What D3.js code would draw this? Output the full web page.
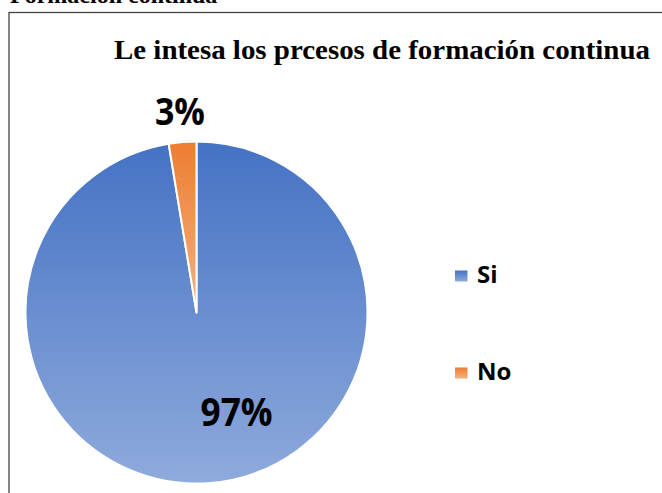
<!DOCTYPE html>
<html>
<head>
<meta charset="utf-8">
<script src="https://cdn.jsdelivr.net/npm/d3@7"></script>
<style>
  html, body { margin: 0; padding: 0; background: #fff; }
  svg { display: block; }
</style>
</head>
<body>
<svg id="chart" width="662" height="493"></svg>
<script>
// ---- data ----
const categories = ["Si", "No"];
const values = [97.4, 2.6];
const labels = ["97%", "3%"];
const pageHeading = "Formación continua";
const chartTitle = "Le intesa los prcesos de formación continua";

// ---- layout / style ----
const W = 662, H = 493;
const cx = 196.5, cy = 312.5, R = 171;
const gradStops = [["#4472C4", "#8FAADC"], ["#ED7D31", "#F4B183"]];
// label placement (polar, degrees clockwise from top, radius in px)
const labelPolar = [{a: 158, r: 107}, {a: -4.7, r: 202}];
const labelWidths = [72, 50];
const labelSizes = [40, 38];

const svg = d3.select("#chart");
const defs = svg.append("defs");
gradStops.forEach((s, i) => {
  const g = defs.append("linearGradient").attr("id", "grad" + i)
    .attr("x1", 0).attr("y1", 0).attr("x2", 0).attr("y2", 1);
  g.append("stop").attr("offset", "0%").attr("stop-color", s[0]);
  g.append("stop").attr("offset", "100%").attr("stop-color", s[1]);
});

// clipped heading above the chart box
svg.append("text")
  .attr("x", 10).attr("y", 3)
  .attr("font-family", "Liberation Serif, serif")
  .attr("font-weight", "bold").attr("font-size", 24)
  .attr("fill", "#000")
  .text(pageHeading);

// chart frame
svg.append("rect")
  .attr("x", 9).attr("y", 12.5)
  .attr("width", W + 10).attr("height", H + 10)
  .attr("fill", "#fff").attr("stroke", "#444").attr("stroke-width", 1.3);

// title
svg.append("text")
  .attr("x", 114).attr("y", 58.5)
  .attr("font-family", "Liberation Serif, serif")
  .attr("font-weight", "bold").attr("font-size", 27)
  .attr("textLength", 536).attr("lengthAdjust", "spacingAndGlyphs")
  .attr("fill", "#000")
  .text(chartTitle);

// pie
const data = categories.map((c, i) => ({cat: c, value: values[i], label: labels[i], i}));
const pie = d3.pie().sort(null).value(d => d.value);
const arc = d3.arc().innerRadius(0).outerRadius(R);
const g = svg.append("g").attr("transform", `translate(${cx},${cy})`);
g.selectAll("path").data(pie(data)).join("path")
  .attr("d", arc)
  .attr("fill", d => `url(#grad${d.data.i})`)
  .attr("stroke", "#fff").attr("stroke-width", 2)
  .attr("stroke-linejoin", "round");

// data labels
g.selectAll("text.lbl").data(data).join("text")
  .attr("class", "lbl")
  .each(function(d) {
    const p = labelPolar[d.i];
    const rad = p.a * Math.PI / 180;
    const x = p.r * Math.sin(rad), y = -p.r * Math.cos(rad);
    d3.select(this)
      .attr("x", x - labelWidths[d.i] / 2)
      .attr("y", y + labelSizes[d.i] * 0.357);
  })
  .attr("font-family", "Open Sans, sans-serif")
  .attr("font-weight", "bold")
  .attr("font-size", d => labelSizes[d.i])
  .attr("textLength", d => labelWidths[d.i])
  .attr("lengthAdjust", "spacingAndGlyphs")
  .attr("fill", "#000")
  .text(d => d.label);

// legend
const legendY = d3.scalePoint().domain(categories).range([276, 373]);
const leg = svg.append("g");
const items = leg.selectAll("g").data(data).join("g")
  .attr("transform", d => `translate(455,${legendY(d.cat)})`);
items.append("rect")
  .attr("x", 0).attr("y", -5.5).attr("width", 12.5).attr("height", 11)
  .attr("fill", d => `url(#grad${d.i})`);
items.append("text")
  .attr("x", 22).attr("y", 7)
  .attr("font-family", "Open Sans, sans-serif")
  .attr("font-weight", "bold").attr("font-size", 24)
  .attr("fill", "#000")
  .text(d => d.cat);
</script>
</body>
</html>
